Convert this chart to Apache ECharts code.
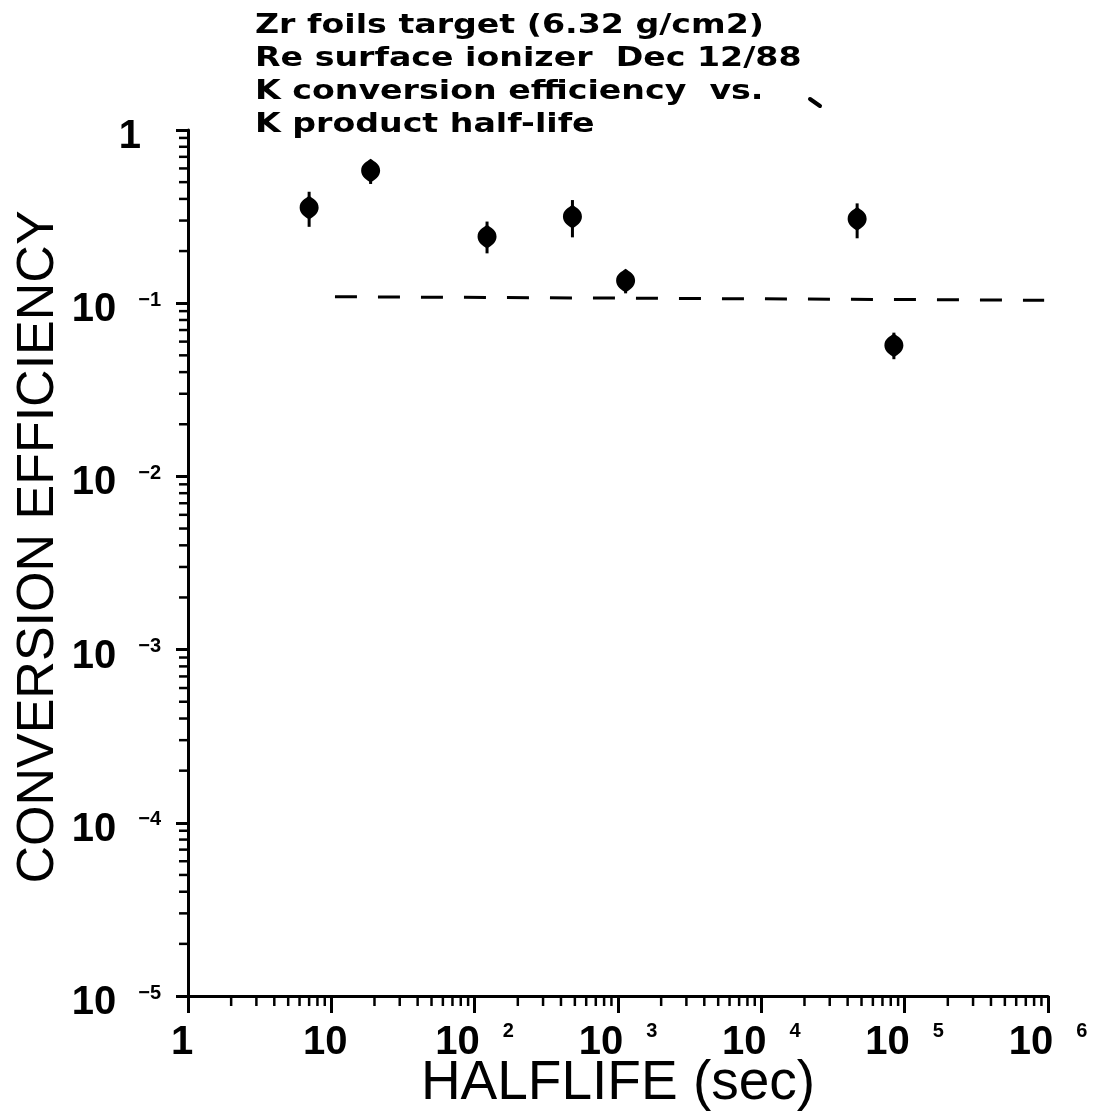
<!DOCTYPE html>
<html><head><meta charset="utf-8">
<script src="https://cdn.jsdelivr.net/npm/echarts@6/dist/echarts.min.js"></script>
<style>html,body{margin:0;padding:0;background:#fff;overflow:hidden;}#c{width:1099px;height:1116px;}</style>
</head><body><div id="c"></div>
<script>
const titleLines = [
  'Zr foils target (6.32 g/cm2)',
  'Re surface ionizer  Dec 12/88',
  'K conversion efficiency  vs.',
  'K product half-life'
];
const halflife   = [7.0, 18.8, 122, 481, 1130, 46600, 84100];
const efficiency = [0.356, 0.582, 0.242, 0.316, 0.135, 0.306, 0.0569];
const errLow     = [0.276, 0.488, 0.194, 0.240, 0.114, 0.237, 0.0475];
const errHigh    = [0.440, 0.660, 0.296, 0.394, 0.155, 0.377, 0.0676];
const refLineX = [10.6, 940000];
const refLineY = [0.109, 0.104];
const xTickLabels = ['1', '10', '10^2', '10^3', '10^4', '10^5', '10^6'];
const yTickLabels = ['10^-5', '10^-4', '10^-3', '10^-2', '10^-1', '1'];
const xMinExp = 0, xMaxExp = 6, yMinExp = -5, yMaxExp = 0;

const minorMultipliers = [2, 3, 4, 5, 6, 7, 8, 9];
function minorTicks(e0, e1) {
  const out = [];
  for (let e = e0; e < e1; e++) minorMultipliers.forEach(m => out.push(m * Math.pow(10, e)));
  return out;
}
const xMinor = minorTicks(xMinExp, xMaxExp);
const yMinor = minorTicks(yMinExp, yMaxExp);

function richLabel(str, key) {
  const parts = str.split('^');
  if (parts.length === 1) return '{' + key + 'n|' + parts[0] + '}';
  return '{' + key + 'b|' + parts[0] + '}{' + key + 's|' + parts[1].replace('-', '\u2212') + '}';
}
const FONT = 'Liberation Sans';
const big = {fontSize: 40, fontWeight: 'bold', fontFamily: FONT, color: '#000', lineHeight: 40};
const small = {fontSize: 20, fontWeight: 'bold', fontFamily: FONT, color: '#000', lineHeight: 20, verticalAlign: 'top'};
const xRich = {
  xb: Object.assign({}, big, {padding: [3, 0, 0, 0]}),
  xs: Object.assign({}, small, {padding: [0, 0, 0, 23]}),
  xn: Object.assign({}, big, {padding: [3, 12, 0, 0]})
};
const yRich = {
  yb: Object.assign({}, big),
  ys: Object.assign({}, small, {padding: [0, 0, 0, 22]}),
  yn: Object.assign({}, big, {padding: [0, 20, 0, 0]})
};

const titleGraphics = titleLines.map((t, i) => ({
  type: 'text', x: 255, y: 12 + i * 33, scaleX: 1.23, scaleY: 1, originX: 0, originY: 0,
  style: {text: t, font: 'bold 27px "DejaVu Sans"', fill: '#000', textVerticalAlign: 'top'}
}));

const chart = echarts.init(document.getElementById('c'), null, {renderer: 'canvas'});
chart.setOption({
  animation: false,
  backgroundColor: '#fff',
  graphic: titleGraphics.concat([{
    type: 'line', shape: {x1: 810, y1: 99, x2: 820, y2: 106},
    style: {stroke: '#000', lineWidth: 4, lineCap: 'round'}
  }]),
  grid: {left: 188, right: 51, top: 130, bottom: 120, containLabel: false, outerBoundsMode: 'none'},
  xAxis: {
    type: 'log', logBase: 10, min: 1, max: 1e6,
    name: 'HALFLIFE (sec)', nameLocation: 'middle', nameGap: 60, nameMoveOverlap: false,
    nameTextStyle: {fontFamily: FONT, fontSize: 55, color: '#000'},
    axisLine: {lineStyle: {color: '#000', width: 3}},
    axisTick: {length: 17, lineStyle: {color: '#000', width: 3}},
    splitLine: {show: false},
    axisLabel: {
      margin: 25, showMinLabel: true, showMaxLabel: true,
      formatter: v => richLabel(xTickLabels[Math.round(Math.log10(v)) - xMinExp], 'x'),
      rich: xRich
    }
  },
  yAxis: {
    type: 'log', logBase: 10, min: 1e-5, max: 1,
    name: 'CONVERSION EFFICIENCY', nameLocation: 'middle', nameGap: 123, nameMoveOverlap: false,
    nameTextStyle: {fontFamily: FONT, fontSize: 52, color: '#000', padding: [0, 0, 0, 32]},
    axisLine: {lineStyle: {color: '#000', width: 3}},
    axisTick: {length: 12, lineStyle: {color: '#000', width: 3}},
    splitLine: {show: false},
    axisLabel: {
      margin: 27, showMinLabel: true, showMaxLabel: true, padding: [14, 0, 0, 0],
      formatter: v => richLabel(yTickLabels[Math.round(Math.log10(v)) - yMinExp], 'y'),
      rich: yRich
    }
  },
  series: [
    {
      type: 'custom', coordinateSystem: 'cartesian2d', clip: false, silent: true,
      data: xMinor.map(v => [v, Math.pow(10, yMinExp)]),
      renderItem: (p, api) => {
        const c = api.coord([api.value(0), api.value(1)]);
        return {type: 'line', shape: {x1: c[0], y1: c[1], x2: c[0], y2: c[1] + 10}, style: {stroke: '#000', lineWidth: 2.5}};
      }
    },
    {
      type: 'custom', coordinateSystem: 'cartesian2d', clip: false, silent: true,
      data: yMinor.map(v => [Math.pow(10, xMinExp), v]),
      renderItem: (p, api) => {
        const c = api.coord([api.value(0), api.value(1)]);
        return {type: 'line', shape: {x1: c[0] - 9, y1: c[1], x2: c[0], y2: c[1]}, style: {stroke: '#000', lineWidth: 2.5}};
      }
    },
    {
      type: 'line', data: refLineX.map((x, i) => [x, refLineY[i]]),
      showSymbol: false, silent: true,
      lineStyle: {color: '#000', width: 3, type: [22, 21]}
    },
    {
      type: 'custom', coordinateSystem: 'cartesian2d', silent: true,
      data: halflife.map((x, i) => [x, errLow[i], errHigh[i]]),
      renderItem: (p, api) => {
        const a = api.coord([api.value(0), api.value(1)]);
        const b = api.coord([api.value(0), api.value(2)]);
        return {type: 'line', shape: {x1: a[0], y1: a[1], x2: b[0], y2: b[1]}, style: {stroke: '#000', lineWidth: 3}};
      },
      z: 3
    },
    {
      type: 'scatter', silent: true, z: 4,
      data: halflife.map((x, i) => [x, efficiency[i]]),
      symbol: 'path://M0,-12 C4,-9 10,-7 10,0 C10,6 4,9 0,12 C-4,9 -10,6 -10,0 C-10,-7 -4,-9 0,-12 Z',
      symbolSize: [19, 24],
      itemStyle: {color: '#000', opacity: 1}
    }
  ]
});
</script></body></html>
